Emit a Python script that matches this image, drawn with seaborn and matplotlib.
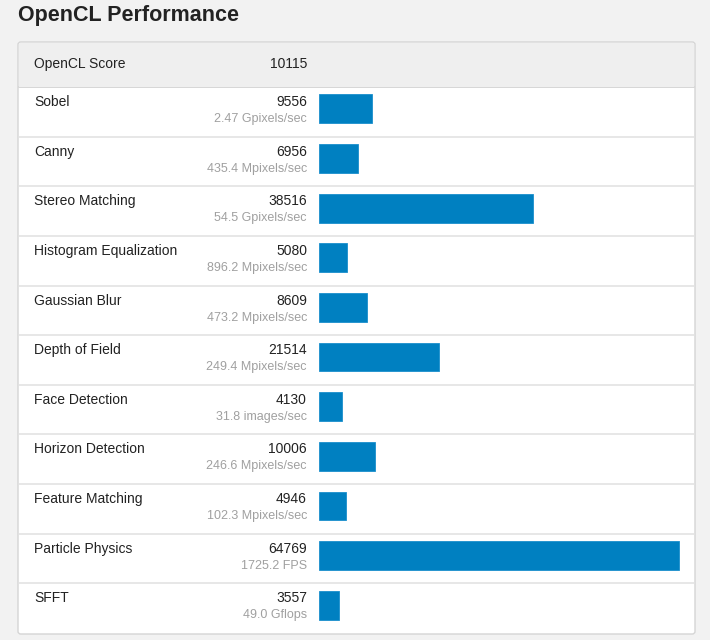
import matplotlib
matplotlib.use("Agg")
import matplotlib.pyplot as plt
from matplotlib.patches import FancyBboxPatch, Rectangle
from matplotlib.lines import Line2D
import seaborn as sns

# ---------- Data ----------
title = "OpenCL Performance"
total_label = "OpenCL Score"
total_score = 10115

tests = ["Sobel", "Canny", "Stereo Matching", "Histogram Equalization",
         "Gaussian Blur", "Depth of Field", "Face Detection",
         "Horizon Detection", "Feature Matching", "Particle Physics", "SFFT"]
scores = [9556, 6956, 38516, 5080, 8609, 21514, 4130, 10006, 4946, 64769, 3557]
rates = ["2.47 Gpixels/sec", "435.4 Mpixels/sec", "54.5 Gpixels/sec",
         "896.2 Mpixels/sec", "473.2 Mpixels/sec", "249.4 Mpixels/sec",
         "31.8 images/sec", "246.6 Mpixels/sec", "102.3 Mpixels/sec",
         "1725.2 FPS", "49.0 Gflops"]

# ---------- Layout (pixels) ----------
W, H = 710, 640
CARD_L, CARD_R, CARD_T, CARD_B = 18, 695, 42, 634
HEAD_B = 87
ROW_H = (CARD_B - 1 - HEAD_B) / len(tests)
BAR_L, BAR_MAX_R = 319, 679
LABEL_X, SCORE_X = 34, 307
BLUE = "#0080c1"

sns.set_theme(style="white")
plt.rcParams["font.family"] = ["Liberation Sans", "DejaVu Sans"]

fig = plt.figure(figsize=(W / 100, H / 100), dpi=100)
fig.patch.set_facecolor("#f2f2f2")


def fx(px):
    return px / W


def fy(py):
    return 1 - py / H


# card + header
fig.patches.append(FancyBboxPatch((fx(CARD_L), fy(CARD_B)), fx(CARD_R - CARD_L), (CARD_B - CARD_T) / H,
                                  boxstyle="round,pad=0,rounding_size=0.004", transform=fig.transFigure,
                                  facecolor="white", edgecolor="#d5d5d5", linewidth=1, zorder=-2))
fig.patches.append(Rectangle((fx(CARD_L + 1), fy(HEAD_B)), fx(CARD_R - CARD_L - 2), (HEAD_B - CARD_T - 1) / H,
                             transform=fig.transFigure, facecolor="#efefef", edgecolor="none", zorder=-1))

fig.text(fx(18), fy(16), title, fontsize=15.5, fontweight="bold", color="#222222", va="center", ha="left")
fig.text(fx(LABEL_X), fy(64), total_label, fontsize=10, color="#222222", va="center")
fig.text(fx(SCORE_X), fy(64), str(total_score), fontsize=10, color="#222222", va="center", ha="right")

# row separators
for i in range(len(tests)):
    y = HEAD_B + i * ROW_H
    col = "#d0d0d0" if i == 0 else "#e3e3e3"
    fig.lines.append(Line2D([fx(CARD_L + 1), fx(CARD_R - 1)], [fy(y), fy(y)],
                            transform=fig.transFigure, color=col, linewidth=1.2, zorder=-1))

# row texts
for i, (name, sc, rt) in enumerate(zip(tests, scores, rates)):
    top = HEAD_B + i * ROW_H
    fig.text(fx(LABEL_X), fy(top + 15), name, fontsize=10, color="#222222", va="center")
    fig.text(fx(SCORE_X), fy(top + 15), str(sc), fontsize=10, color="#222222", va="center", ha="right")
    fig.text(fx(SCORE_X), fy(top + 32), rt, fontsize=9, color="#a0a0a0", va="center", ha="right")

# bars
ax = fig.add_axes([fx(BAR_L), fy(CARD_B - 1), fx(CARD_R - 1 - BAR_L), (CARD_B - 1 - HEAD_B) / H])
ax.set_zorder(3)
ax.patch.set_alpha(0)
sns.barplot(x=scores, y=tests, orient="h", color=BLUE, saturation=1, width=0.58, ax=ax,
            edgecolor="#1a8fcc", linewidth=0.6)
max_score = max(scores)
ax.set_xlim(0, max_score * (CARD_R - 1 - BAR_L) / (BAR_MAX_R - BAR_L))
ax.set_ylim(len(tests) - 0.5, -0.5)
# shift bars a touch upward within their rows
for p in ax.patches:
    p.set_y(p.get_y() - 0.06)
ax.set_axis_off()

fig.savefig("out.png", dpi=100, facecolor=fig.get_facecolor())
